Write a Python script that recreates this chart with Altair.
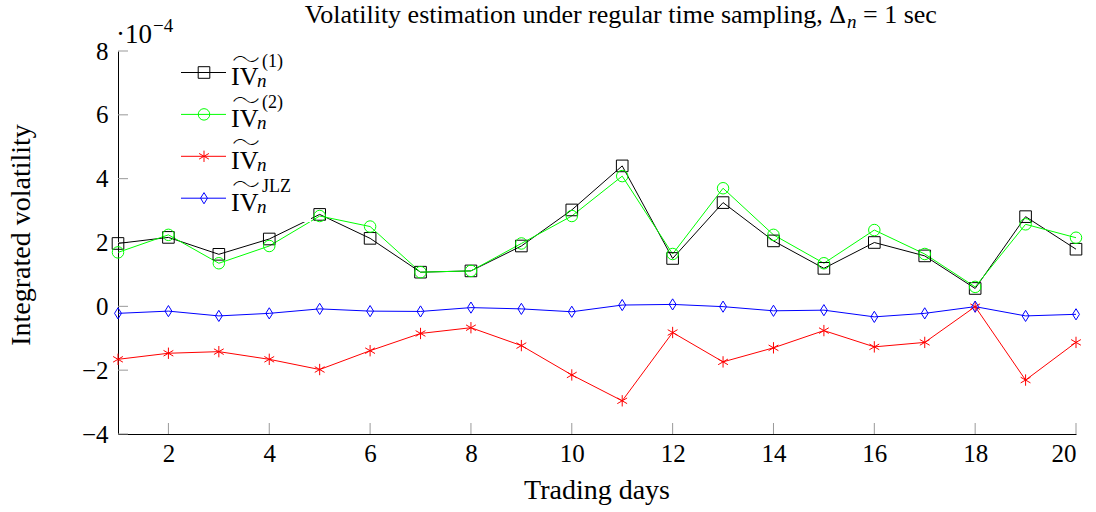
import altair as alt
import pandas as pd

# ---- data (values in units of 1e-4) ----
days = list(range(1, 21))
iv1 = [1.97, 2.16, 1.63, 2.11, 2.88, 2.13, 1.07, 1.11, 1.89, 3.02,
       4.40, 1.50, 3.25, 2.05, 1.19, 2.00, 1.58, 0.56, 2.81, 1.79]
iv2 = [1.69, 2.24, 1.35, 1.89, 2.83, 2.50, 1.07, 1.11, 1.97, 2.83,
       4.08, 1.64, 3.70, 2.24, 1.35, 2.39, 1.64, 0.61, 2.57, 2.15]
iv = [-1.66, -1.47, -1.42, -1.66, -1.98, -1.39, -0.85, -0.67, -1.23, -2.15,
      -2.96, -0.82, -1.74, -1.30, -0.76, -1.27, -1.13, -0.01, -2.31, -1.13]
jlz = [-0.22, -0.15, -0.30, -0.22, -0.08, -0.15, -0.16, -0.04, -0.08, -0.17,
       0.04, 0.06, -0.01, -0.14, -0.12, -0.33, -0.22, -0.01, -0.30, -0.25]

series_names = ["iv1", "iv2", "iv", "jlz"]
series_sup = ["(1)", "(2)", "", "JLZ"]
x_ticks = [2, 4, 6, 8, 10, 12, 14, 16, 18, 20]
y_ticks = [-4, -2, 0, 2, 4, 6, 8]

title_main = "Volatility estimation under regular time sampling, Δ"
title_sub = "n"
title_end = "= 1 sec"
x_title = "Trading days"
y_title = "Integrated volatility"

rows = []
for name, vals in zip(series_names, [iv1, iv2, iv, jlz]):
    for d, v in zip(days, vals):
        rows.append({"series": name, "day": d, "value": v})
df = pd.DataFrame(rows)

legend_df = pd.DataFrame({"series": series_names, "row": list(range(4)), "sup": series_sup})

FONT = "Liberation Serif"
W, H = 958, 383

color_scale = alt.Scale(domain=series_names, range=["#000000", "#00ff00", "#ff0000", "#0000ff"])
shape_scale = alt.Scale(domain=series_names, range=[
    "square", "circle",
    "M0,-1L0,1M-0.866,-0.5L0.866,0.5M-0.866,0.5L0.866,-0.5",
    "M0,-1L0.62,0L0,1L-0.62,0Z"])
size_scale = alt.Scale(domain=series_names, range=[135, 125, 110, 140])
leg_size_scale = alt.Scale(domain=series_names, range=[105, 100, 100, 120])

xs = alt.Scale(domain=[1, 20], nice=False, zero=False)
ys = alt.Scale(domain=[-4, 8], nice=False, zero=False)
x_axis = alt.Axis(values=x_ticks, labelPadding=7)
y_axis = alt.Axis(values=y_ticks, labelPadding=10)

base = alt.Chart(df)
lines = base.mark_line(strokeWidth=1).encode(
    x=alt.X("day:Q", scale=xs, axis=x_axis),
    y=alt.Y("value:Q", scale=ys, axis=y_axis),
    color=alt.Color("series:N", scale=color_scale, legend=None),
    order=alt.Order("day:Q"))
points = base.mark_point(filled=False, strokeWidth=1, opacity=1).encode(
    x=alt.X("day:Q", scale=xs, axis=x_axis),
    y=alt.Y("value:Q", scale=ys, axis=y_axis),
    color=alt.Color("series:N", scale=color_scale, legend=None),
    shape=alt.Shape("series:N", scale=shape_scale, legend=None),
    size=alt.Size("series:N", scale=size_scale, legend=None))

xtick_rules = alt.Chart(pd.DataFrame({"t": x_ticks})).mark_rule(color="#999999", strokeWidth=1).encode(
    x=alt.X("t:Q", scale=xs, axis=x_axis), y=alt.value(H - 11), y2=alt.value(H))
ytick_rules = alt.Chart(pd.DataFrame({"t": y_ticks})).mark_rule(color="#999999", strokeWidth=1).encode(
    y=alt.Y("t:Q", scale=ys, axis=y_axis), x=alt.value(0), x2=alt.value(10))

legend_box = alt.Chart(legend_df).mark_rect(color="white").encode(
    x=alt.value(58), x2=alt.value(193), y=alt.value(3), y2=alt.value(171))

R0, STEP = 21.5, 41.9
leg = alt.Chart(legend_df).transform_calculate(
    ly=f"{R0} + datum.row * {STEP}",
    ly_iv=f"{R0} + datum.row * {STEP} + 12.5",
    ly_t=f"{R0} + datum.row * {STEP} - 11",
    ly_n=f"{R0} + datum.row * {STEP} + 14.5",
    ly_s=f"{R0} + datum.row * {STEP} - 6")
leg_line = leg.mark_rule(strokeWidth=1).encode(
    x=alt.value(63), x2=alt.value(108), y=alt.Y("ly:Q", scale=None),
    color=alt.Color("series:N", scale=color_scale, legend=None))
leg_pt = leg.mark_point(filled=False, strokeWidth=1, opacity=1).encode(
    x=alt.value(86), y=alt.Y("ly:Q", scale=None),
    color=alt.Color("series:N", scale=color_scale, legend=None),
    shape=alt.Shape("series:N", scale=shape_scale, legend=None),
    size=alt.Size("series:N", scale=leg_size_scale, legend=None))
leg_iv = leg.mark_text(font=FONT, fontSize=26, align="left", baseline="alphabetic", color="black").encode(
    x=alt.value(113), y=alt.Y("ly_iv:Q", scale=None), text=alt.value("IV"))
leg_tilde = leg.mark_text(font="Noto Sans CJK JP", fontSize=28, fontWeight=100, align="center",
                          baseline="middle", color="black").encode(
    x=alt.value(128), y=alt.Y("ly_t:Q", scale=None), text=alt.value("〜"))
leg_n = leg.mark_text(font=FONT, fontSize=19, fontStyle="italic", align="left", baseline="alphabetic", color="black").encode(
    x=alt.value(139), y=alt.Y("ly_n:Q", scale=None), text=alt.value("n"))
leg_sup = leg.mark_text(font=FONT, fontSize=18, align="left", baseline="alphabetic", color="black").encode(
    x=alt.value(144), y=alt.Y("ly_s:Q", scale=None), text="sup:N")

one = pd.DataFrame({"k": [0]})
def txt(s, x, y, size=28, align="left", style="normal", angle=0, baseline="alphabetic"):
    return alt.Chart(one).mark_text(font=FONT, fontSize=size, align=align, baseline=baseline,
                                    fontStyle=style, angle=angle, color="black").encode(
        x=alt.value(x), y=alt.value(y), text=alt.value(s))

title1 = txt(title_main, 728, -28, size=26, align="right")
title2 = txt(title_sub, 729, -23, size=19, style="italic")
title3 = txt(title_end, 745, -28, size=26)
mult1 = txt("·10", 34, -8.5, size=27, align="right")
mult2 = txt("−4", 35, -19.5, size=19)
xt = txt(x_title, W / 2, 448, align="center")
yt = txt(y_title, -96, 184, align="center", angle=270, baseline="middle")

chart = alt.layer(
    xtick_rules, ytick_rules, lines, points, legend_box,
    leg_line, leg_pt, leg_iv, leg_tilde, leg_n, leg_sup,
    title1, title2, title3, mult1, mult2, xt, yt
).properties(
    width=W, height=H,
    autosize=alt.AutoSizeParams(type="none"),
    padding={"left": 118, "top": 51, "right": 20, "bottom": 78},
).configure_view(stroke=None).configure_axis(
    domainWidth=1, domainColor="black", tickSize=0, grid=False, title=None,
    labelFont=FONT, labelFontSize=25, labelColor="black")

chart.save("out.html", embed_options={"renderer": "svg", "actions": False})
